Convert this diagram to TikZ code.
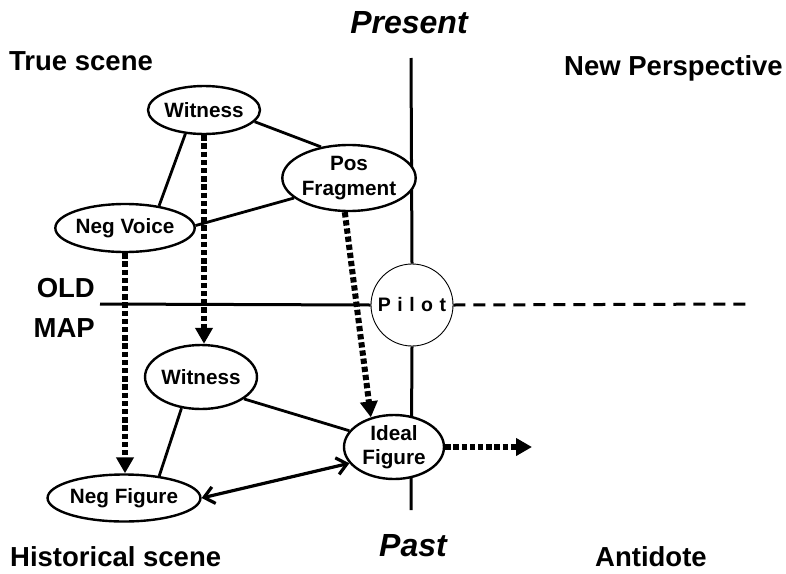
\documentclass[tikz,border=0pt]{standalone}
\usepackage{fontspec}
\setmainfont{Liberation Sans}
\usetikzlibrary{shapes.geometric,arrows.meta}

\tikzset{
  concept/.style={ellipse, draw, line width=2.4pt, fill=white, inner sep=0pt,
    font=\fontsize{20.7}{24.5}\selectfont\bfseries, align=center},
  heading/.style={font=\fontsize{27.5}{30}\selectfont\bfseries, inner sep=0pt},
  timelabel/.style={font=\fontsize{32}{34}\selectfont\bfseries\itshape, inner sep=0pt},
  axis/.style={line width=3pt},
  link/.style={line width=2.8pt},
  flow/.style={line width=6pt, dash pattern=on 5.3pt off 2.9pt,
    -{Triangle[length=16pt,width=17pt]}},
  mutual/.style={line width=3.2pt,
    {Straight Barb[length=10pt,width=17pt,line width=3.2pt]}-{Straight Barb[length=10pt,width=17pt,line width=3.2pt]}},
  future/.style={line width=3pt, dash pattern=on 12pt off 8pt},
}

\begin{document}
\begin{tikzpicture}[x=1pt,y=-1pt]
\useasboundingbox (0,0) rectangle (786,573);

% headings
\node[timelabel, anchor=base] (present) at (409,33) {Present};
\node[timelabel, anchor=base] (past) at (413,556) {Past};
\node[heading, anchor=base west] (truescene) at (9,70) {True scene};
\node[heading, anchor=base east] (newpersp) at (783,75) {New Perspective};
\node[heading, anchor=base east] (old) at (95,297) {OLD};
\node[heading, anchor=base east] (map) at (95,337) {MAP};
\node[heading, anchor=base west] (histscene) at (10,566) {Historical scene};
\node[heading, anchor=base west] (antidote) at (595,566) {Antidote};

% axes
\coordinate (axisTop) at (411,58);
\coordinate (axisBot) at (411,510);
\coordinate (mapL) at (100,304);
\coordinate (mapR) at (748,304);
\coordinate (fwd) at (532,447);

\node[circle, draw, line width=0.9pt, fill=white, minimum size=82pt, inner sep=0pt,
      font=\fontsize{19.5}{20}\selectfont\bfseries] (pilot) at (412,305)
      {P\hspace{6.5pt}i\hspace{6.5pt}l\hspace{6.5pt}o\hspace{6.5pt}t};

\draw[axis] (axisTop) -- (pilot.north);
\draw[axis] (pilot.south) -- (axisBot);
\draw[axis] (mapL) -- (pilot.west);
\draw[future] (pilot.east) -- (mapR);

% concept nodes
\node[concept, minimum width=100pt, minimum height=48pt] (w1) at (204,110) {Witness};
\node[concept, minimum width=116pt, minimum height=66pt] (pf) at (349,178) {Pos\\Fragment};
\node[concept, minimum width=134pt, minimum height=48pt] (nv) at (125,228) {Neg Voice};
\node[concept, minimum width=102pt, minimum height=64pt] (w2) at (201,377) {Witness};
\node[concept, minimum width=134pt, minimum height=47pt] (nf) at (124,498) {Neg Figure};
\node[concept, minimum width=100pt, minimum height=64pt] (ideal) at (394,447) {Ideal\\Figure};

% solid links
\draw[link] (w1.232) -- (nv.33);
\draw[link] (w1.347) -- (pf.132);
\draw[link] (nv.2) -- (pf.200);
\draw[link] (w2.238) -- (nf.32);
\draw[link] (w2.333) -- (ideal.160);
\draw[mutual] (nf.east) -- (ideal.200);

% dotted flows
\draw[flow] (w1.south) -- (w1.south |- w2.north);
\draw[flow] (nv.south) -- (nv.south |- nf.north);
\draw[flow] (pf.263) -- (ideal.128);
\draw[flow] (ideal.east) -- (fwd);
\end{tikzpicture}
\end{document}
